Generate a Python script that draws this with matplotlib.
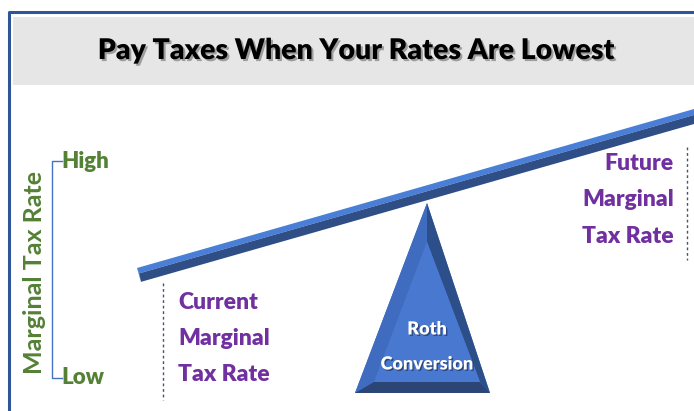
import matplotlib
matplotlib.use("Agg")
import matplotlib.pyplot as plt
from matplotlib.patches import Polygon, Rectangle
import matplotlib.patheffects as pe

# ---- text content ----
title = "Pay Taxes When Your Rates Are Lowest"
axis_label = "Marginal Tax Rate"
scale_labels = ["High", "Low"]
current_label = ["Current", "Marginal", "Tax Rate"]
future_label = ["Future", "Marginal", "Tax Rate"]
fulcrum_label = ["Roth", "Conversion"]

# ---- colours ----
frame_c = "#2f5597"
band_c = "#e7e6e6"
green = "#538135"
purple = "#7030a0"
beam_light = "#4a7fd8"
beam_dark = "#2f4e85"
tri_face = "#4878cf"
tri_left = "#3f6cbf"
tri_right = "#2c4f8a"
tri_bottom = "#2b4575"

W, H = 694, 411
fig = plt.figure(figsize=(W / 100, H / 100), dpi=100)
ax = fig.add_axes([0, 0, 1, 1])
ax.set_xlim(0, W)
ax.set_ylim(H, 0)
ax.axis("off")

font = "Lato"

# frame
ax.plot([9, 9, W], [H, 12, 12], color=frame_c, lw=2.2, solid_capstyle="butt")
# title band
ax.add_patch(Rectangle((13, 17), W - 13, 68, color=band_c, lw=0))
ax.text(357, 51, title, ha="center", va="center", fontsize=20.5, fontweight="heavy",
        family=font, color="black",
        path_effects=[pe.withSimplePatchShadow(offset=(1.5, -1.5), shadow_rgbFace="#555555", alpha=0.5)])

# beam
x0, y0, x1, y1 = 137, 268, 694, 109
slope = (y1 - y0) / (x1 - x0)
def yt(x):
    return y0 + slope * (x - x0)
ax.add_patch(Polygon([(x0, y0), (x1, y1), (x1, y1 + 6), (x0 + 2, yt(x0 + 2) + 6)],
                     closed=True, color=beam_light, lw=0))
ax.add_patch(Polygon([(x0 + 2, yt(x0 + 2) + 6), (x1, y1 + 6), (x1, y1 + 15), (x0 + 4, yt(x0 + 4) + 15)],
                     closed=True, color=beam_dark, lw=0))
ax.add_patch(Polygon([(x0, y0), (x0 + 2, yt(x0 + 2) + 6), (x0 + 4, yt(x0 + 4) + 15)],
                     closed=True, color="#3a62a8", lw=0))

# fulcrum triangle
apex, bl, br = (427, 203), (355, 393), (490, 393)
iapex, ibl, ibr = (427, 242), (374, 382), (480, 382)
ax.add_patch(Polygon([apex, bl, br], closed=True, color=tri_face, lw=0))
ax.add_patch(Polygon([apex, bl, ibl, iapex], closed=True, color=tri_left, lw=0))
ax.add_patch(Polygon([apex, iapex, ibr, br], closed=True, color=tri_right, lw=0))
ax.add_patch(Polygon([bl, ibl, ibr, br], closed=True, color=tri_bottom, lw=0))
ax.add_patch(Polygon([iapex, ibl, ibr], closed=True, color=tri_face, lw=0))
for txt, yy in zip(fulcrum_label, [329, 364]):
    ax.text(427, yy, txt, ha="center", va="center", fontsize=13, fontweight="heavy",
            family=font, color="white",
            path_effects=[pe.withSimplePatchShadow(offset=(1, -1), shadow_rgbFace="#1a2a4a", alpha=0.6)])

# left scale bracket
ax.plot([62, 52, 52, 62], [161, 161, 378, 378], color="#4472c4", lw=1)
ax.text(61, 161, scale_labels[0], ha="left", va="center", fontsize=16, fontweight="heavy",
        family=font, color=green)
ax.text(61, 377, scale_labels[1], ha="left", va="center", fontsize=16, fontweight="heavy",
        family=font, color=green)
ax.text(35, 272, axis_label, ha="center", va="center", rotation=90, fontsize=18,
        fontweight="bold", family=font, color=green)

# dotted guides
ax.plot([163, 163], [283, 400], color="#44546a", lw=1, ls=(0, (2, 2)))
ax.plot([687, 687], [147, 260], color="#44546a", lw=1, ls=(0, (2, 2)))

# purple labels
for txt, yy in zip(current_label, [302, 338, 374]):
    ax.text(178, yy, txt, ha="left", va="center", fontsize=16.5, fontweight="heavy",
            family=font, color=purple)
for txt, yy in zip(future_label, [163, 199, 236]):
    ax.text(674, yy, txt, ha="right", va="center", fontsize=16.5, fontweight="heavy",
            family=font, color=purple)

fig.savefig("out.png", dpi=100)
